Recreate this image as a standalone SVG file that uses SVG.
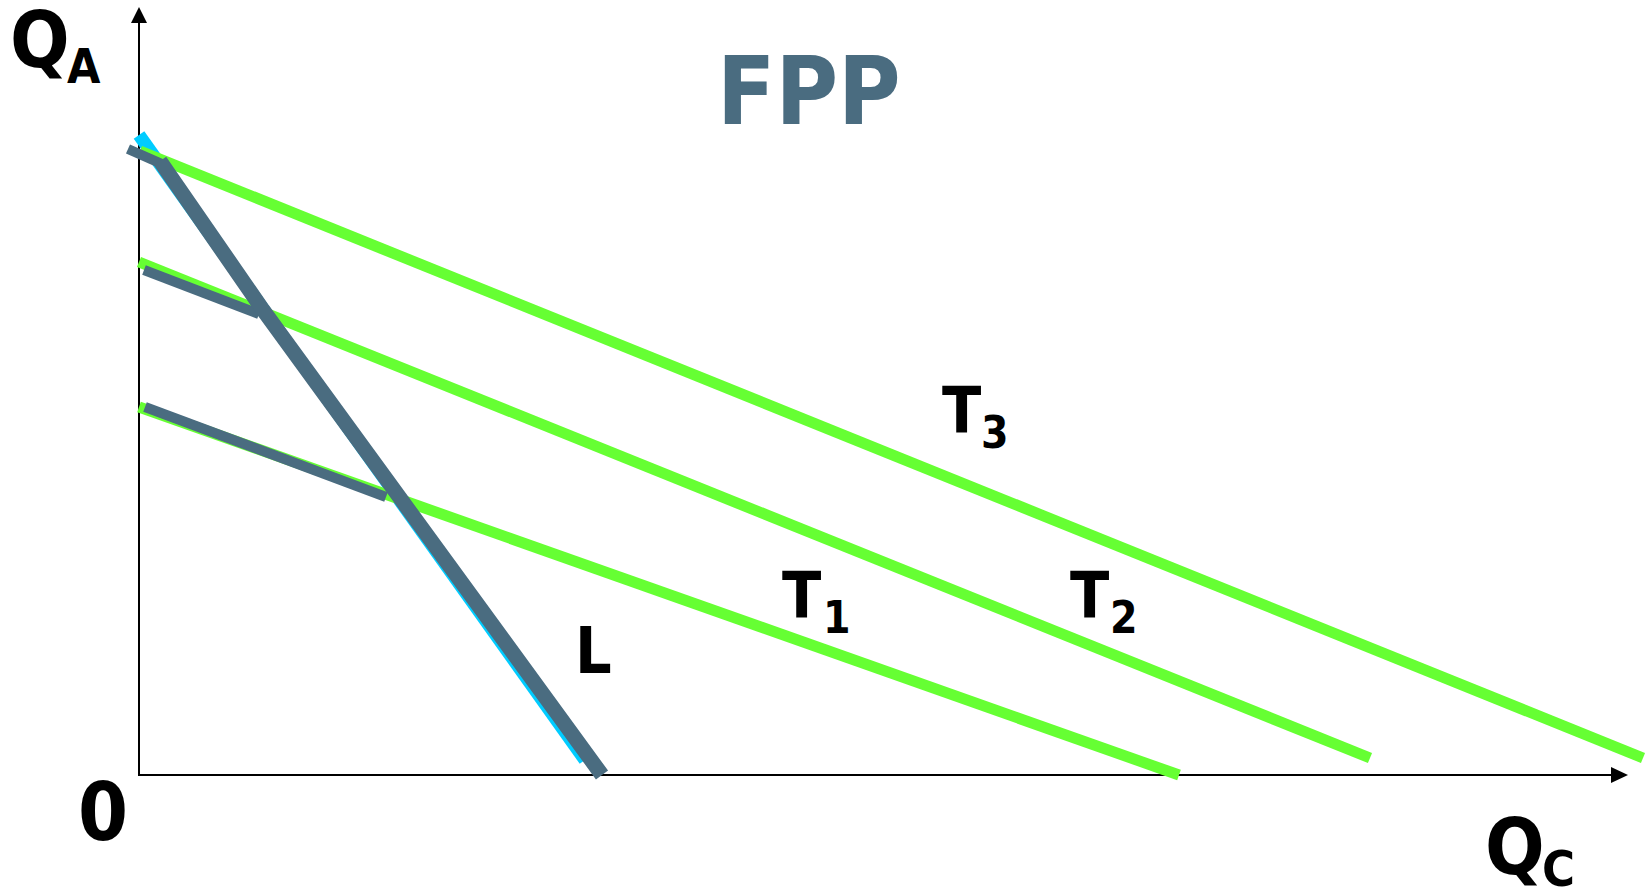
<svg xmlns="http://www.w3.org/2000/svg" width="1651" height="890" viewBox="0 0 1651 890">
  <style>
    .ax { stroke: #000; stroke-width: 2; fill: none; }
    .arrow { fill: #000; }
    .green { stroke: #66FF33; stroke-width: 11; fill: none; stroke-linecap: butt; }
    .gray { stroke: #4A6C80; stroke-width: 10; fill: none; stroke-linecap: butt; }
    .grayL { stroke: #4A6C80; stroke-width: 15; fill: none; stroke-linecap: butt; stroke-linejoin: miter; }
    .cyan { stroke: #00CCFF; stroke-width: 13; fill: none; stroke-linecap: butt; }
    .lbl { font-family: "DejaVu Sans Condensed", "DejaVu Sans", "Liberation Sans", sans-serif; font-weight: bold; fill: #000; }
    .title { font-family: "DejaVu Sans Condensed", "DejaVu Sans", "Liberation Sans", sans-serif; font-weight: bold; fill: #4A6C80; }
  </style>
  <rect width="1651" height="890" fill="#fff"/>
  <g id="axes">
    <line class="ax" x1="139" y1="20" x2="139" y2="775"/>
    <line class="ax" x1="138" y1="775" x2="1614" y2="775"/>
    <polygon class="arrow" points="139,7 131,23 147,23"/>
    <polygon class="arrow" points="1628,775 1611,767 1611,783"/>
  </g>
  <g id="connectors">
    <line class="cyan" x1="139" y1="135" x2="585" y2="760"/>
    <line class="green" id="T1-line" x1="139" y1="407" x2="1179" y2="775"/>
    <line class="green" id="T2-line" x1="139" y1="262" x2="1370" y2="758"/>
    <line class="green" id="T3-line" x1="140" y1="151" x2="1643" y2="758"/>
    <line class="gray" x1="128" y1="149" x2="162" y2="164"/>
    <line class="gray" x1="144" y1="270" x2="259" y2="314"/>
    <line class="gray" x1="145" y1="407" x2="386" y2="497"/>
    <polyline class="grayL" id="L-line" points="160,161 263,310 602,775"/>
  </g>
  <g id="title">
    <text class="title" x="717" y="124" font-size="95">FPP</text>
  </g>
  <g id="label-QA">
    <text class="lbl" x="10" y="67" font-size="78">Q</text>
    <text class="lbl" x="67" y="83" font-size="48">A</text>
  </g>
  <g id="label-0">
    <text class="lbl" x="78" y="840" font-size="80">0</text>
  </g>
  <g id="label-QC">
    <text class="lbl" x="1485" y="874" font-size="78">Q</text>
    <text class="lbl" x="1542" y="886" font-size="50">C</text>
  </g>
  <g id="label-L">
    <text class="lbl" x="575" y="673" font-size="64">L</text>
  </g>
  <g id="label-T1">
    <text class="lbl" x="782" y="618" font-size="64">T</text>
    <text class="lbl" x="823" y="633" font-size="44">1</text>
  </g>
  <g id="label-T2">
    <text class="lbl" x="1070" y="618" font-size="64">T</text>
    <text class="lbl" x="1110" y="633" font-size="44">2</text>
  </g>
  <g id="label-T3">
    <text class="lbl" x="942" y="433" font-size="64">T</text>
    <text class="lbl" x="981" y="448" font-size="44">3</text>
  </g>
</svg>
